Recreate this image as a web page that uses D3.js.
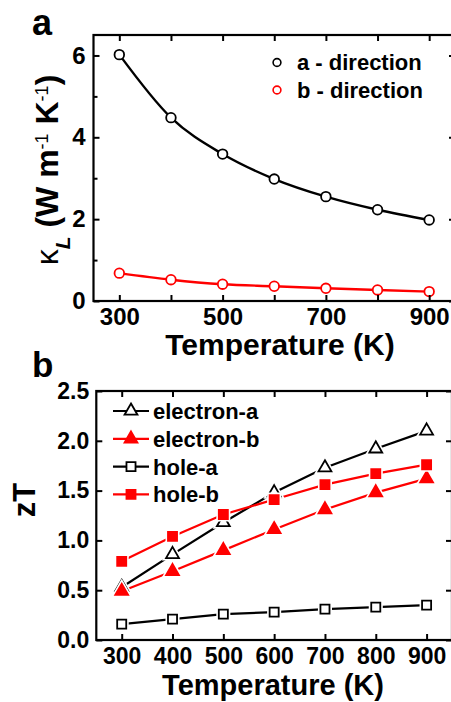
<!DOCTYPE html>
<html>
<head>
<meta charset="utf-8">
<script src="https://cdn.jsdelivr.net/npm/d3@7"></script>
<style>
  body { margin: 0; background: #fff; }
  svg { display: block; font-family: "Liberation Sans", Arial, sans-serif; }
  .tick text { font-weight: bold; fill: #000; }
</style>
</head>
<body>
<svg id="chart" width="451" height="702"></svg>
<script>
// data
var temps = [300, 400, 500, 600, 700, 800, 900];
var kappaA = [6.02, 4.48, 3.59, 2.98, 2.55, 2.23, 1.98];
var kappaB = [0.68, 0.52, 0.41, 0.36, 0.31, 0.27, 0.23];

var electronA = [0.53, 0.86, 1.18, 1.48, 1.73, 1.92, 2.10];
var electronB = [0.49, 0.69, 0.90, 1.11, 1.31, 1.48, 1.62];
var holeA = [0.16, 0.21, 0.26, 0.28, 0.31, 0.33, 0.35];
var holeB = [0.79, 1.04, 1.26, 1.41, 1.56, 1.67, 1.76];

var xTicks = [300, 400, 500, 600, 700, 800, 900];
var xLabelsA = [300, 500, 700, 900];
var yTicksA = [0, 1, 2, 3, 4, 5, 6];
var yLabelsA = [0, 2, 4, 6];
var yTicksB = [0, 0.5, 1.0, 1.5, 2.0, 2.5];

var legendA = ["a - direction", "b - direction"];
var legendB = ["electron-a", "electron-b", "hole-a", "hole-b"];

var RED = "#ff0000";
var svg = d3.select("#chart");

function zip(xs, ys) {
  return xs.map(function(t, i) { return [t, ys[i]]; });
}

// frame with inward ticks on all four sides
function frame(g, x, y, o) {
  var x0 = x.range()[0], x1 = x.range()[1];
  var y0 = y.range()[0], y1 = y.range()[1];

  g.append("g").attr("transform", "translate(0," + y0 + ")")
    .call(d3.axisBottom(x).tickValues(xTicks).tickSize(-6).tickPadding(o.xPad)
      .tickFormat(function(d) { return o.xLabels.indexOf(d) >= 0 ? d : ""; }))
    .call(function(a) { a.selectAll("text").style("font-size", o.tickFont + "px"); });
  g.append("g").attr("transform", "translate(0," + y1 + ")")
    .call(d3.axisTop(x).tickValues(xTicks).tickSize(-6).tickFormat(""));

  g.append("g").attr("transform", "translate(" + x0 + ",0)")
    .call(d3.axisLeft(y).tickValues(o.yTicks).tickSize(-6).tickPadding(o.yPad)
      .tickFormat(function(d) { return o.yLabels.indexOf(d) >= 0 ? o.yFmt(d) : ""; }))
    .call(function(a) {
      a.selectAll("text").style("font-size", o.tickFont + "px");
      a.selectAll(".tick line").attr("x2", function(d) { return o.yLabels.indexOf(d) >= 0 ? 6 : 4; });
    });
  g.append("g").attr("transform", "translate(" + x1 + ",0)")
    .call(d3.axisRight(y).tickValues(o.yTicks).tickSize(-6).tickFormat(""))
    .call(function(a) {
      a.selectAll(".tick line").attr("x2", function(d) { return o.yLabels.indexOf(d) >= 0 ? -6 : -4; });
    });

  g.selectAll(".domain").remove();
  g.selectAll(".tick line").attr("stroke", "#000").attr("stroke-width", 2);

  g.append("rect")
    .attr("x", x0).attr("y", y1)
    .attr("width", x1 - x0).attr("height", y0 - y1)
    .attr("fill", "none").attr("stroke", "#000").attr("stroke-width", 2.2);
}

// ---------- panel a ----------
var xa = d3.scaleLinear().domain([250, 950]).range([93.5, 455]);
var ya = d3.scaleLinear().domain([0, 6.5]).range([301, 35]);
var ga = svg.append("g");

var curve = d3.line()
  .x(function(d) { return xa(d[0]); })
  .y(function(d) { return ya(d[1]); })
  .curve(d3.curveMonotoneX);

[[kappaA, "#000"], [kappaB, RED]].forEach(function(s) {
  var pts = zip(temps, s[0]);
  ga.append("path").datum(pts)
    .attr("d", curve).attr("fill", "none")
    .attr("stroke", s[1]).attr("stroke-width", 2.4);
  ga.selectAll(null).data(pts).enter().append("circle")
    .attr("cx", function(d) { return xa(d[0]); })
    .attr("cy", function(d) { return ya(d[1]); })
    .attr("r", 4.8)
    .attr("fill", "#fff").attr("stroke", s[1]).attr("stroke-width", 1.8);
});

frame(ga, xa, ya, {
  xPad: 7, yPad: 8, tickFont: 24,
  xLabels: xLabelsA, yTicks: yTicksA, yLabels: yLabelsA,
  yFmt: function(d) { return d; }
});

legendA.forEach(function(name, i) {
  var yy = 62.5 + i * 27.5;
  ga.append("circle").attr("cx", 277).attr("cy", yy).attr("r", 3.9)
    .attr("fill", "none").attr("stroke", i ? RED : "#000").attr("stroke-width", 1.6);
  ga.append("text").attr("x", 297).attr("y", yy).attr("dy", "0.36em")
    .style("font-size", "22px").style("font-weight", "bold").text(name);
});

ga.append("text").attr("x", 280).attr("y", 355)
  .attr("text-anchor", "middle")
  .style("font-size", "30px").style("font-weight", "bold")
  .text("Temperature (K)");

var yl = ga.append("text")
  .attr("transform", "translate(58,170) rotate(-90)")
  .attr("text-anchor", "middle")
  .style("font-size", "32px");
yl.append("tspan").text("\u03ba");
yl.append("tspan").attr("baseline-shift", "sub").style("font-size", "21px")
  .style("font-style", "italic").style("font-weight", "bold").text("L");
yl.append("tspan").style("font-weight", "bold").text(" (W m");
yl.append("tspan").attr("baseline-shift", "super").style("font-size", "18px").text("-1");
yl.append("tspan").style("font-weight", "bold").text(" K");
yl.append("tspan").attr("baseline-shift", "super").style("font-size", "18px").text("-1");
yl.append("tspan").style("font-weight", "bold").text(")");

svg.append("text").attr("x", 32).attr("y", 35)
  .style("font-size", "36px").style("font-weight", "bold").text("a");

// ---------- panel b ----------
var xb = d3.scaleLinear().domain([250, 950]).range([96.3, 452]);
var yb = d3.scaleLinear().domain([0, 2.5]).range([640, 391]);
var gb = svg.append("g");

var straight = d3.line()
  .x(function(d) { return xb(d[0]); })
  .y(function(d) { return yb(d[1]); });

var tri = d3.symbol(d3.symbolTriangle, 72);
var sqr = d3.symbol(d3.symbolSquare, 82);

var seriesB = [
  { vals: electronA, color: "#000", shape: tri, filled: false },
  { vals: electronB, color: RED, shape: tri, filled: true },
  { vals: holeA, color: "#000", shape: sqr, filled: false },
  { vals: holeB, color: RED, shape: sqr, filled: true }
];

// lines first, then markers with a white halo so the lines stop short
seriesB.forEach(function(s) {
  gb.append("path").datum(zip(temps, s.vals))
    .attr("d", straight).attr("fill", "none")
    .attr("stroke", s.color).attr("stroke-width", 2.2);
});
seriesB.forEach(function(s) {
  var pts = zip(temps, s.vals);
  var m = gb.selectAll(null).data(pts).enter().append("g")
    .attr("transform", function(d) { return "translate(" + xb(d[0]) + "," + yb(d[1]) + ")"; });
  m.append("path").attr("d", s.shape)
    .attr("fill", "#fff").attr("stroke", "#fff").attr("stroke-width", 5);
  m.append("path").attr("d", s.shape)
    .attr("fill", s.filled ? s.color : "#fff")
    .attr("stroke", s.color).attr("stroke-width", 1.8);
});

frame(gb, xb, yb, {
  xPad: 7.5, yPad: 7, tickFont: 23,
  xLabels: xTicks, yTicks: yTicksB, yLabels: yTicksB,
  yFmt: d3.format(".1f")
});

legendB.forEach(function(name, i) {
  var s = seriesB[i];
  var yy = 411 + i * 27.8;
  gb.append("line").attr("x1", 113).attr("x2", 149).attr("y1", yy).attr("y2", yy)
    .attr("stroke", s.color).attr("stroke-width", 2.2);
  gb.append("path").attr("d", s.shape)
    .attr("transform", "translate(131," + yy + ")")
    .attr("fill", s.filled ? s.color : "#fff")
    .attr("stroke", s.color).attr("stroke-width", 1.8);
  gb.append("text").attr("x", 153).attr("y", yy).attr("dy", "0.36em")
    .style("font-size", "22px").style("font-weight", "bold").text(name);
});

gb.append("text").attr("x", 273).attr("y", 695)
  .attr("text-anchor", "middle")
  .style("font-size", "29px").style("font-weight", "bold")
  .text("Temperature (K)");

gb.append("text")
  .attr("transform", "translate(35,500) rotate(-90)")
  .attr("text-anchor", "middle")
  .style("font-size", "31px").style("font-weight", "bold")
  .text("zT");

svg.append("text").attr("x", 32).attr("y", 377)
  .style("font-size", "35px").style("font-weight", "bold").text("b");
</script>
</body>
</html>
